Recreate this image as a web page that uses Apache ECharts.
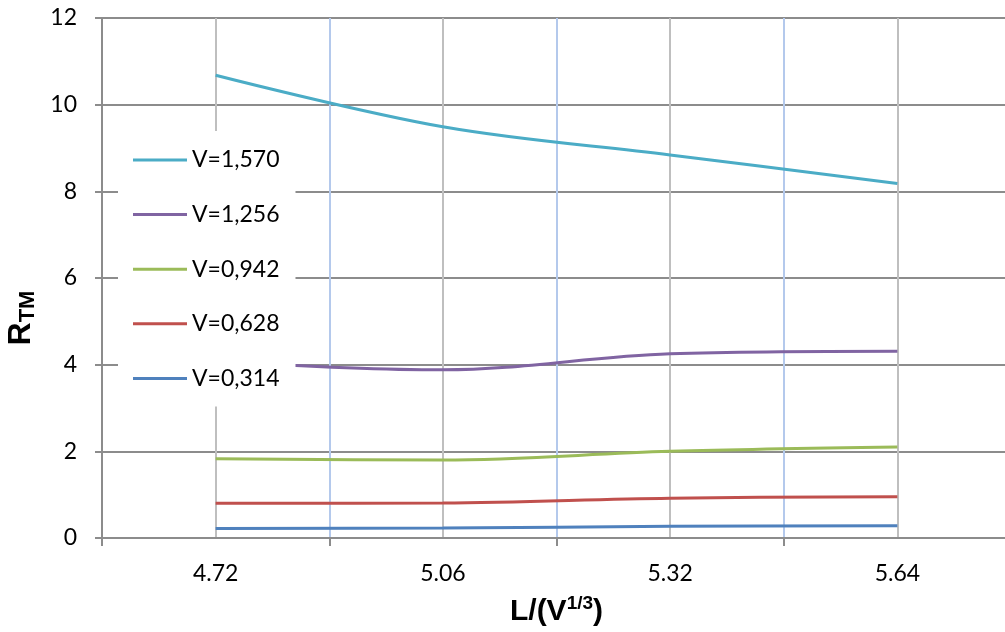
<!DOCTYPE html>
<html>
<head>
<meta charset="utf-8">
<script src="https://cdn.jsdelivr.net/npm/echarts@6/dist/echarts.min.js"></script>
<style>
html,body{margin:0;padding:0;background:#fff;}
#chart{width:1005px;height:632px;}
</style>
</head>
<body>
<div id="chart"></div>
<script>
const categories = ['4.72', '5.06', '5.32', '5.64'];
const seriesNames = ['V=1,570', 'V=1,256', 'V=0,942', 'V=0,628', 'V=0,314'];
const v1570 = [10.68, 9.49, 8.84, 8.18];
const v1256 = [4.08, 3.88, 4.25, 4.31];
const v0942 = [1.83, 1.80, 2.00, 2.10];
const v0628 = [0.80, 0.81, 0.92, 0.95];
const v0314 = [0.22, 0.23, 0.27, 0.28];
const yTicks = [0, 2, 4, 6, 8, 10, 12];
const helperSlots = ['0', '1', '2', '3', '4', '5', '6', '7', '8'];

const colors = ['#4BACC6', '#8064A2', '#9BBB59', '#C0504D', '#4F81BD'];
const values = [v1570, v1256, v0942, v0628, v0314];
const font = 'Lato, "Noto Sans", sans-serif';
const titleFont = '"Liberation Sans", Arial, sans-serif';

const chart = echarts.init(document.getElementById('chart'), null, {renderer: 'canvas'});
chart.setOption({
  animation: false,
  backgroundColor: '#fff',
  grid: {left: 102, top: 18, height: 520, width: 909, containLabel: false, outerBoundsMode: 'none'},
  legend: {
    orient: 'vertical',
    left: 118, top: 131,
    data: seriesNames,
    icon: 'rect',
    itemWidth: 54, itemHeight: 3,
    itemGap: 30.6,
    padding: [17, 16, 16, 15],
    backgroundColor: '#fff',
    textStyle: {fontFamily: font, fontSize: 23, color: '#000', lineHeight: 24},
    selectedMode: false
  },
  xAxis: [{
    type: 'category',
    data: categories,
    boundaryGap: true,
    axisLine: {show: true, lineStyle: {color: '#8C8C8C', width: 2}},
    axisTick: {show: true, length: 8, lineStyle: {color: '#8C8C8C', width: 2}},
    axisLabel: {fontFamily: font, fontSize: 23, color: '#000', margin: 24},
    splitLine: {show: true, lineStyle: {color: '#B4C9EC', width: 2}},
    name: '{a|L/(V}{s|1/3}{a|)}',
    nameLocation: 'middle',
    nameGap: 56,
    nameTextStyle: {
      fontFamily: titleFont, fontSize: 30, fontWeight: 'bold', color: '#000',
      rich: {
        a: {fontFamily: titleFont, fontSize: 30, fontWeight: 'bold', color: '#000', lineHeight: 36},
        s: {fontFamily: titleFont, fontSize: 19, fontWeight: 'bold', color: '#000', lineHeight: 19, verticalAlign: 'top'}
      }
    }
  }, {
    type: 'category',
    data: helperSlots,
    boundaryGap: false,
    position: 'bottom',
    axisLine: {show: false},
    axisTick: {show: false},
    axisLabel: {show: false},
    splitLine: {show: true, interval: function (i) { return i % 2 === 1; }, lineStyle: {color: '#BFBFBF', width: 2}}
  }],
  yAxis: {
    type: 'value',
    min: yTicks[0], max: yTicks[yTicks.length - 1], interval: 2,
    axisLine: {show: true, lineStyle: {color: '#8C8C8C', width: 2}},
    axisTick: {show: true, length: 7, lineStyle: {color: '#8C8C8C', width: 2}},
    axisLabel: {fontFamily: font, fontSize: 23, color: '#000', margin: 25},
    splitLine: {show: true, lineStyle: {color: '#8C8C8C', width: 2}},
    name: '{a|R}{s|TM}',
    nameLocation: 'middle',
    nameRotate: 90,
    nameGap: 56,
    nameTextStyle: {
      fontFamily: titleFont, fontSize: 32, fontWeight: 'bold', color: '#000',
      padding: [0, 80, 0, 0],
      rich: {
        a: {fontFamily: titleFont, fontSize: 32, fontWeight: 'bold', color: '#000', lineHeight: 36},
        s: {fontFamily: titleFont, fontSize: 22, fontWeight: 'bold', color: '#000', lineHeight: 22, verticalAlign: 'bottom'}
      }
    }
  },
  series: seriesNames.map((n, i) => ({
    name: n,
    type: 'line',
    xAxisIndex: 0,
    data: values[i],
    smooth: 0.35,
    symbol: 'none',
    lineStyle: {color: colors[i], width: 3},
    itemStyle: {color: colors[i]},
    z: 3
  }))
});
</script>
</body>
</html>
